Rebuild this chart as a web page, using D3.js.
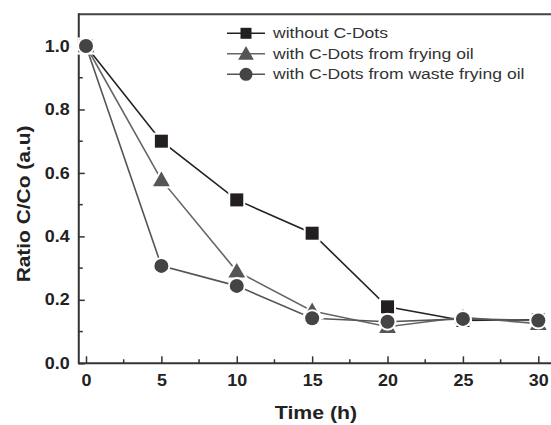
<!DOCTYPE html>
<html>
<head>
<meta charset="utf-8">
<script src="https://cdn.jsdelivr.net/npm/d3@7"></script>
<style>
  body { margin: 0; background: #fff; }
  svg { font-family: "Liberation Sans", Arial, sans-serif; }
  .axis path, .axis line { stroke: #333; }
  .axis text { font-weight: bold; fill: #222; }
</style>
</head>
<body>
<div id="chart"></div>
<script>
// time (h)
var times = [0, 5, 10, 15, 20, 25, 30];
// C/Co values
var withoutDots = [1.0, 0.70, 0.515, 0.41, 0.178, 0.135, 0.137];
var fryingOil   = [1.0, 0.578, 0.29, 0.165, 0.115, 0.145, 0.125];
var wasteOil    = [1.0, 0.307, 0.244, 0.142, 0.131, 0.14, 0.135];
var seriesNames = ["without C-Dots", "with C-Dots from frying oil", "with C-Dots from waste frying oil"];
var xTicks = [0, 5, 10, 15, 20, 25, 30];
var yTicks = [0.0, 0.2, 0.4, 0.6, 0.8, 1.0];

var width = 551, height = 425;

var svg = d3.select("#chart").append("svg")
    .attr("width", width + "px")
    .attr("height", height + "px");

var x = d3.scaleLinear().domain([0, 30]).range([86, 538.3]);
var y = d3.scaleLinear().domain([0, 1]).range([363.3, 46]);

var plotLeft = x(-0.48), plotTop = y(1.1), plotBottom = y(0);

// frame: left, bottom, top (right side is cut off in the original)
svg.append("line").attr("x1", plotLeft).attr("x2", width + 5).attr("y1", plotTop).attr("y2", plotTop)
    .attr("stroke", "#444").attr("stroke-width", 2);

var xAxis = svg.append("g").attr("class", "axis")
    .attr("transform", "translate(0," + plotBottom + ")")
    .call(d3.axisBottom(x).tickValues(xTicks).tickSize(-7).tickPadding(11).tickFormat(d3.format("d")));
xAxis.select(".domain").remove();
svg.append("line").attr("x1", plotLeft).attr("x2", width + 5).attr("y1", plotBottom).attr("y2", plotBottom)
    .attr("stroke", "#333").attr("stroke-width", 2);
// minor x ticks
svg.selectAll(".xminor")
    .data(d3.range(2.5, 32, 5))
    .enter().append("line")
        .attr("x1", function(d) { return x(d); }).attr("x2", function(d) { return x(d); })
        .attr("y1", plotBottom).attr("y2", plotBottom - 4)
        .attr("stroke", "#333").attr("stroke-width", 1.5);
xAxis.selectAll("line").attr("stroke-width", 1.5);
xAxis.selectAll("text")
    .attr("font-size", "16px")
    .attr("transform", "scale(1.12,1)");

var yAxis = svg.append("g").attr("class", "axis")
    .attr("transform", "translate(" + plotLeft + ",0)")
    .call(d3.axisLeft(y).tickValues(yTicks).tickSize(-6).tickPadding(9).tickFormat(d3.format(".1f")));
yAxis.select(".domain").remove();
svg.append("line").attr("x1", plotLeft).attr("x2", plotLeft).attr("y1", plotTop - 1).attr("y2", plotBottom + 1)
    .attr("stroke", "#333").attr("stroke-width", 2);
svg.selectAll(".yminor")
    .data([0.1, 0.3, 0.5, 0.7, 0.9])
    .enter().append("line")
        .attr("x1", plotLeft).attr("x2", plotLeft + 4)
        .attr("y1", function(d) { return y(d); }).attr("y2", function(d) { return y(d); })
        .attr("stroke", "#333").attr("stroke-width", 1.5);
yAxis.selectAll("line").attr("stroke-width", 1.5);
yAxis.selectAll("text")
    .attr("font-size", "16px")
    .attr("x", 0)
    .attr("transform", "translate(-9,0) scale(1.12,1)");

// axis titles
svg.append("text")
    .attr("transform", "translate(316,419) scale(1.12,1)")
    .attr("text-anchor", "middle")
    .attr("font-size", "19px").attr("font-weight", "bold").attr("fill", "#222")
    .text("Time (h)");
svg.append("text")
    .attr("transform", "translate(30,204) rotate(-90) scale(1.1,1)")
    .attr("text-anchor", "middle")
    .attr("font-size", "19px").attr("font-weight", "bold").attr("fill", "#222")
    .text("Ratio C/Co (a.u)");

// series
var series = [
    {name: seriesNames[0], values: withoutDots, shape: "square",   fill: "#231f20", line: "#222"},
    {name: seriesNames[1], values: fryingOil,   shape: "triangle", fill: "#555",    line: "#666"},
    {name: seriesNames[2], values: wasteOil,    shape: "circle",   fill: "#444",    line: "#555"}
];

function markerPath (shape, s) {
    if (shape == "square") {
        var h = s / 2;
        return "M" + (-h) + "," + (-h) + "H" + h + "V" + h + "H" + (-h) + "Z";
    }
    if (shape == "triangle") {
        var w = s * 0.6;
        return "M0," + (-s * 0.6) + "L" + w + "," + (s * 0.45) + "L" + (-w) + "," + (s * 0.45) + "Z";
    }
    var r = s / 2;
    return "M" + r + ",0A" + r + "," + r + " 0 1,1 " + (-r) + ",0A" + r + "," + r + " 0 1,1 " + r + ",0Z";
}

var markerSize = {square: 13, triangle: 14, circle: 14};

var linefun = d3.line()
    .x(function(d, i) { return x(times[i]); })
    .y(function(d) { return y(d); });

series.forEach(function(s) {
    svg.append("path")
        .attr("d", linefun(s.values))
        .attr("fill", "none")
        .attr("stroke", s.line)
        .attr("stroke-width", 1.6);
});

series.forEach(function(s) {
    svg.selectAll(".mk-" + s.shape)
        .data(s.values)
        .enter().append("path")
            .attr("class", "mk-" + s.shape)
            .attr("transform", function(d, i) { return "translate(" + x(times[i]) + "," + y(d) + ")"; })
            .attr("d", markerPath(s.shape, markerSize[s.shape]))
            .attr("fill", s.fill)
            .attr("stroke", "#fff")
            .attr("stroke-width", 4)
            .attr("paint-order", "stroke");
});

// legend
var legend = svg.append("g").attr("transform", "translate(227,33.3)");
series.forEach(function(s, i) {
    var g = legend.append("g").attr("transform", "translate(0," + (i * 20.5) + ")");
    g.append("line").attr("x1", 0).attr("x2", 38).attr("y1", 0).attr("y2", 0)
        .attr("stroke", s.line).attr("stroke-width", 1.6);
    g.append("path")
        .attr("transform", "translate(19,0)")
        .attr("d", markerPath(s.shape, s.shape == "square" ? 11 : 13))
        .attr("fill", s.fill);
    g.append("text")
        .attr("transform", "translate(46,5) scale(1.17,1)")
        .attr("font-size", "15px")
        .attr("fill", "#333")
        .text(s.name);
});
</script>
</body>
</html>
